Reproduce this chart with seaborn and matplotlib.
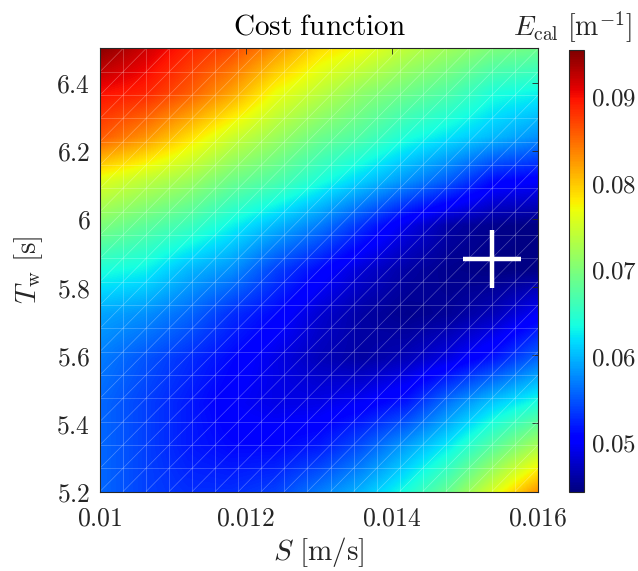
import numpy as np
import matplotlib
matplotlib.use("Agg")
import matplotlib.pyplot as plt
import seaborn as sns
from matplotlib.collections import LineCollection
from matplotlib.ticker import FuncFormatter

# grid of the cost surface (11 x 11 samples)
S_vals = [0.0100, 0.0106, 0.0112, 0.0118, 0.0124, 0.0130,
          0.0136, 0.0142, 0.0148, 0.0154, 0.0160]
T_vals = [6.50, 6.37, 6.24, 6.11, 5.98, 5.85, 5.72, 5.59, 5.46, 5.33, 5.20]

# rows follow T_vals (top -> bottom), columns follow S_vals
E_cal = [
    [0.095, 0.092, 0.089, 0.087, 0.083, 0.079, 0.077, 0.074, 0.072, 0.070, 0.069],
    [0.090, 0.089, 0.086, 0.082, 0.077, 0.074, 0.071, 0.069, 0.067, 0.064, 0.063],
    [0.086, 0.083, 0.079, 0.075, 0.072, 0.069, 0.067, 0.064, 0.062, 0.060, 0.058],
    [0.076, 0.074, 0.072, 0.069, 0.067, 0.064, 0.061, 0.058, 0.055, 0.051, 0.050],
    [0.070, 0.068, 0.066, 0.063, 0.060, 0.057, 0.053, 0.049, 0.046, 0.045, 0.0445],
    [0.064, 0.063, 0.060, 0.058, 0.054, 0.051, 0.048, 0.046, 0.045, 0.0445, 0.0447],
    [0.059, 0.058, 0.056, 0.053, 0.051, 0.048, 0.046, 0.045, 0.0455, 0.047, 0.050],
    [0.057, 0.055, 0.053, 0.051, 0.049, 0.047, 0.046, 0.047, 0.049, 0.052, 0.056],
    [0.056, 0.054, 0.052, 0.050, 0.049, 0.049, 0.050, 0.052, 0.057, 0.061, 0.064],
    [0.056, 0.054, 0.052, 0.051, 0.051, 0.052, 0.055, 0.059, 0.063, 0.068, 0.073],
    [0.056, 0.054, 0.053, 0.053, 0.054, 0.057, 0.060, 0.064, 0.069, 0.076, 0.083],
]

best_S = [0.01537]
best_T = [5.882]

x_ticks = [0.010, 0.012, 0.014, 0.016]
y_ticks = [5.2, 5.4, 5.6, 5.8, 6.0, 6.2, 6.4]
cb_ticks = [0.05, 0.06, 0.07, 0.08, 0.09]
E_min, E_max = 0.0443, 0.0954

sns.set_theme(style="white")
plt.rcParams["font.family"] = ["DejaVu Serif"]
plt.rcParams["mathtext.fontset"] = "cm"
plt.rcParams["axes.linewidth"] = 0.8
plt.rcParams["axes.edgecolor"] = "#262626"

fig = plt.figure(figsize=(6.38, 5.71), dpi=100)
ax = fig.add_axes([0.1567, 0.1392, 0.6866, 0.7759])
cax = fig.add_axes([0.8918, 0.1384, 0.024, 0.774])

# pixel centres sit on the grid nodes, interpolation done on the data values
dS = S_vals[1] - S_vals[0]
dT = T_vals[0] - T_vals[1]
extent = [min(S_vals) - dS / 2, max(S_vals) + dS / 2,
          min(T_vals) - dT / 2, max(T_vals) + dT / 2]
img = ax.imshow(np.array(E_cal), extent=extent, origin="upper", aspect="auto",
                cmap="jet", vmin=E_min, vmax=E_max, interpolation="bilinear",
                interpolation_stage="data")

# faint surface edges like the original (20 x 20 nodes, "/" diagonals)
sx = np.linspace(min(S_vals), max(S_vals), 20)
ty = np.linspace(min(T_vals), max(T_vals), 20)
segs = []
for x in sx:
    segs.append([(x, ty[0]), (x, ty[-1])])
for y in ty:
    segs.append([(sx[0], y), (sx[-1], y)])
for i in range(19):
    for j in range(19):
        segs.append([(sx[i], ty[j]), (sx[i + 1], ty[j + 1])])
ax.add_collection(LineCollection(segs, colors="white", linewidths=0.5, alpha=0.3))

ax.plot(best_S, best_T, marker="+", markersize=42, markeredgewidth=3.2,
        color="white", linestyle="none")

ax.set_xlim(min(S_vals), max(S_vals))
ax.set_ylim(min(T_vals), max(T_vals))
ax.set_xticks(x_ticks)
ax.set_yticks(y_ticks)
ax.xaxis.set_major_formatter(FuncFormatter(lambda v, p: "$%g$" % round(v, 4)))
ax.yaxis.set_major_formatter(FuncFormatter(lambda v, p: "$%g$" % round(v, 2)))
ax.tick_params(direction="in", length=4, width=0.6, labelsize=18.5,
               top=True, right=True, colors="#262626")
ax.tick_params(axis="x", pad=10)
ax.tick_params(axis="y", pad=7)

ax.set_xlabel(r"$S\ \mathrm{[m/s]}$", fontsize=21, color="#262626", labelpad=3)
ax.set_ylabel(r"$T_\mathrm{w}\ \mathrm{[s]}$", fontsize=21, color="#262626", labelpad=8)
ax.set_title(r"$\mathrm{Cost\ function}$", fontsize=21, color="black", pad=10)

cb = fig.colorbar(img, cax=cax, ticks=cb_ticks)
cb.outline.set_linewidth(0.8)
cb.ax.tick_params(direction="in", length=4, width=0.6, labelsize=18, pad=5,
                  colors="#262626")
cb.ax.yaxis.set_major_formatter(FuncFormatter(lambda v, p: "$%g$" % round(v, 3)))
cb.ax.set_title(r"$E_\mathrm{cal}\ \mathrm{[m^{-1}]}$", fontsize=20, pad=10, x=0.25)

fig.savefig("out.png", dpi=100)
